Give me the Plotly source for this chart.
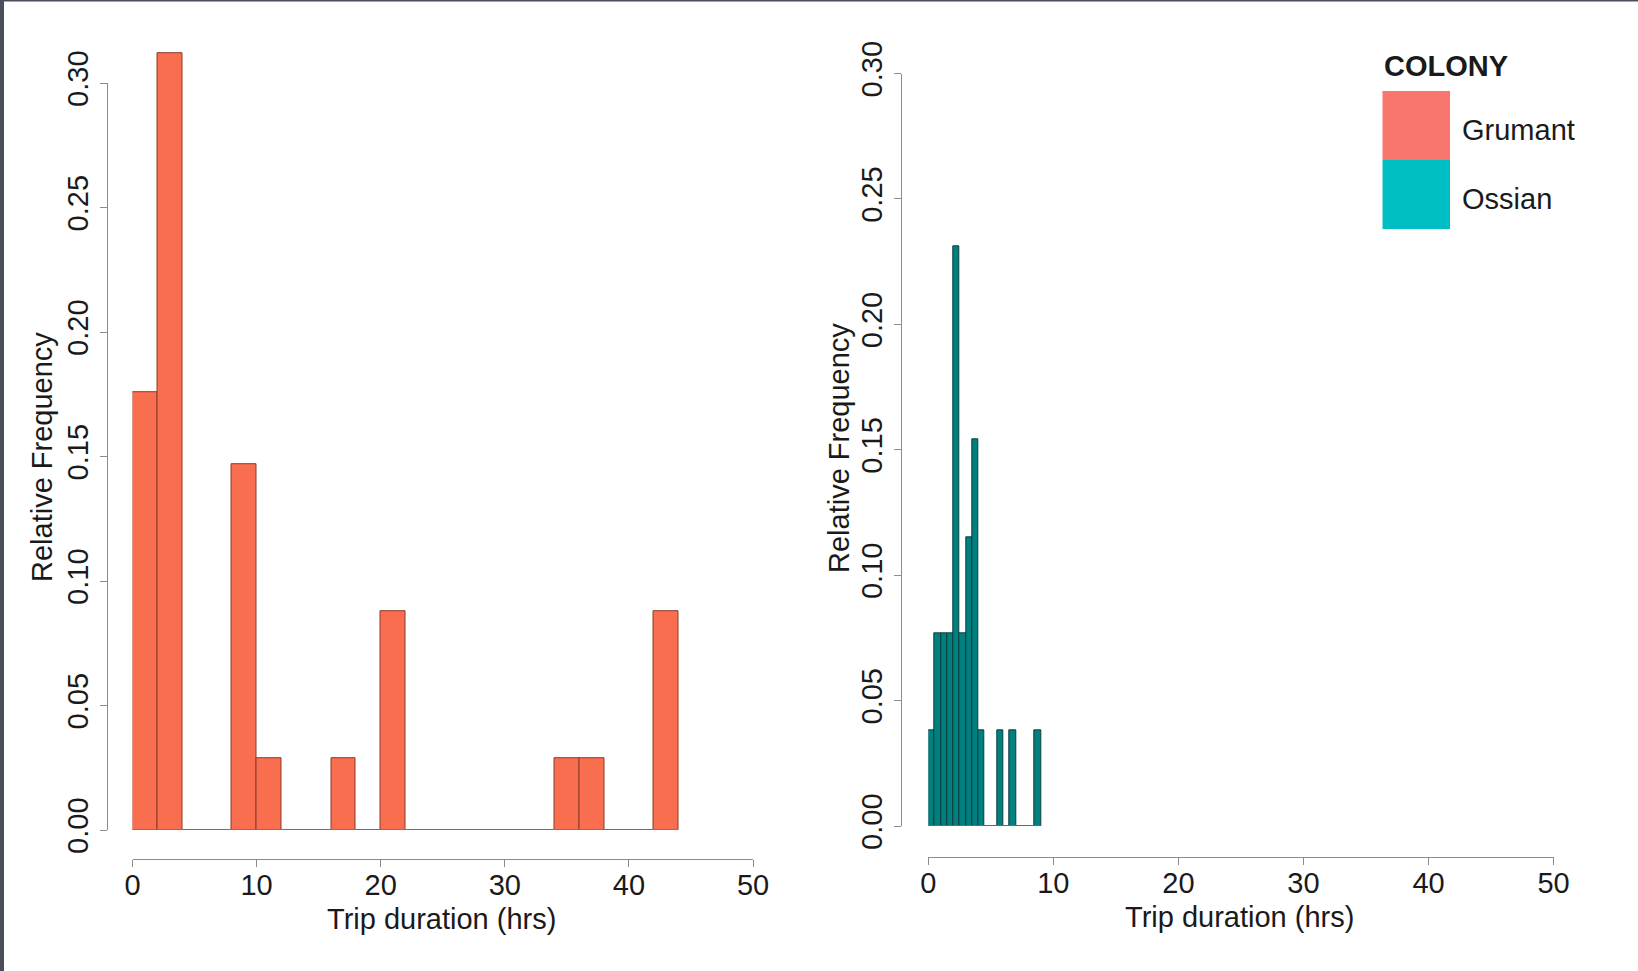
import plotly.graph_objects as go

# ---------------- data ----------------
colonies = ["Grumant", "Ossian"]
legend_colors = ["#F8766D", "#00BFC4"]

# Grumant: bin edges 0..44 (width 2 h), relative frequency per bin
grumant_edges = [0, 2, 4, 6, 8, 10, 12, 14, 16, 18, 20, 22, 24, 26, 28, 30, 32, 34, 36, 38, 40, 42, 44]
grumant_freq = [0.176, 0.312, 0, 0, 0.147, 0.029, 0, 0, 0.029, 0, 0.088,
                0, 0, 0, 0, 0, 0, 0.029, 0.029, 0, 0, 0.088]

# Ossian: bin edges 0..9 (width 0.5 h)
ossian_edges = [0, 0.5, 1, 1.5, 2, 2.5, 3, 3.5, 4, 4.5, 5, 5.5, 6, 6.5, 7, 7.5, 8, 8.5, 9]
ossian_freq = [0.038, 0.077, 0.077, 0.077, 0.231, 0.077, 0.115, 0.154, 0.038,
               0, 0, 0.038, 0, 0.038, 0, 0, 0, 0.038]

x_ticks = [0, 10, 20, 30, 40, 50]
y_ticks = [0.00, 0.05, 0.10, 0.15, 0.20, 0.25, 0.30]
x_title = "Trip duration (hrs)"
y_title = "Relative Frequency"
legend_title = "COLONY"

# ---------------- layout helpers ----------------
W, H = 1638, 971
FONT = "Liberation Sans, Arial, Helvetica, sans-serif"
AXCOL = "#8c8c8c"
TXT = "#1a1a1a"
FS = 29
CLEAR = "rgba(0,0,0,0)"


def fx(px):
    return px / W


def fy(py):
    return 1 - py / H


YMAX = 0.32
panels = [
    # x0px, x50px, y0px, y30px, yaxis line x, xaxis line y
    dict(x0=132.5, x50=753.0, y0=830.0, y30=83.0, yline=107.0, xline=859.0),
    dict(x0=928.3, x50=1553.6, y0=826.0, y30=73.5, yline=901.0, xline=857.0),
]

fig = go.Figure()

series = [
    (grumant_edges, grumant_freq, "#FA6E50", "#8a3a2a"),
    (ossian_edges, ossian_freq, "#00807E", "#0b3d3c"),
]

layout_axes = {}
for i, (p, (edges, freq, fill, edge)) in enumerate(zip(panels, series)):
    bx = "x" if i == 0 else f"x{i + 1}"
    by = "y" if i == 0 else f"y{i + 1}"
    dx = f"x{i + 3}"
    dy = f"y{i + 3}"
    widths = [b - a for a, b in zip(edges[:-1], edges[1:])]
    # baseline for the (empty) bins
    fig.add_trace(go.Scatter(x=[edges[0], edges[-1]], y=[0, 0], mode="lines",
                             line=dict(color=AXCOL, width=1), xaxis=bx, yaxis=by,
                             showlegend=False, hoverinfo="skip"))
    fig.add_trace(go.Bar(x=edges[:-1], y=freq, width=widths, offset=0,
                         marker=dict(color=fill, line=dict(color=edge, width=1)),
                         xaxis=bx, yaxis=by, showlegend=False, name=colonies[i]))
    fig.add_trace(go.Scatter(x=[None], y=[None], xaxis=dx, yaxis=dy,
                             showlegend=False, hoverinfo="skip"))

    ppu = (p["y0"] - p["y30"]) / 0.30
    top_px = p["y0"] - YMAX * ppu
    xdom = [fx(p["x0"]), fx(p["x50"])]
    kb = "xaxis" if i == 0 else f"xaxis{i + 1}"
    kby = "yaxis" if i == 0 else f"yaxis{i + 1}"
    layout_axes[kb] = dict(domain=xdom, range=[0, 50], visible=False, anchor=by)
    layout_axes[kby] = dict(domain=[fy(p["y0"]), fy(top_px)], range=[0, YMAX],
                            visible=False, anchor=bx)
    # decorative R-style axes
    layout_axes[f"xaxis{i + 3}"] = dict(
        domain=xdom, range=[0, 50], anchor="free", position=fy(p["xline"]),
        showline=True, linecolor=AXCOL, linewidth=1, ticks="outside", ticklen=7,
        tickcolor=AXCOL, tickvals=x_ticks, ticktext=[str(v) for v in x_ticks],
        ticklabelstandoff=-7,
        showgrid=False, zeroline=False, tickfont=dict(size=FS, color=TXT, family=FONT))
    layout_axes[f"yaxis{i + 3}"] = dict(
        domain=[fy(p["y0"]), fy(p["y30"])], range=[0, 0.30], anchor="free",
        position=fx(p["yline"]), showline=True, linecolor=AXCOL, linewidth=1,
        ticks="outside", ticklen=7, tickcolor=AXCOL, tickvals=y_ticks,
        ticktext=[f"{v:.2f}" for v in y_ticks], tickangle=-90, showgrid=False,
        zeroline=False, tickfont=dict(size=FS, color=TXT, family=FONT))


def ann(text, px, py, angle=0, xanchor="center"):
    return dict(text=text, x=fx(px), y=fy(py), xref="paper", yref="paper",
                xanchor=xanchor, yanchor="middle", textangle=angle, showarrow=False,
                font=dict(size=FS, color=TXT, family=FONT))


annotations = [
    ann(x_title, 441, 919),
    ann(x_title, 1239, 917),
    ann(y_title, 42, 457, angle=-90),
    ann(y_title, 839, 448, angle=-90),
    ann(f"<b>{legend_title}</b>", 1382, 66, xanchor="left"),
]

shapes = [
    # page frame (dark strip left and top)
    dict(type="rect", xref="paper", yref="paper", x0=0, x1=fx(4), y0=0, y1=1,
         fillcolor="#4a4e58", line=dict(width=0), layer="above"),
    dict(type="rect", xref="paper", yref="paper", x0=0, x1=1, y0=fy(1.5), y1=1,
         fillcolor="#4a4e58", line=dict(width=0), layer="above"),
]

# legend swatches
sw_top = 91.0
sw_h = 69.0
for j, (name, col) in enumerate(zip(colonies, legend_colors)):
    t = sw_top + j * sw_h
    shapes.append(dict(type="rect", xref="paper", yref="paper", x0=fx(1382.5), x1=fx(1450),
                       y0=fy(t + sw_h), y1=fy(t), fillcolor=col, line=dict(width=0)))
    annotations.append(ann(name, 1460, t + sw_h / 2 + 4, xanchor="left"))

fig.update_layout(
    width=W, height=H, margin=dict(l=0, r=0, t=0, b=0, autoexpand=False),
    paper_bgcolor="white", plot_bgcolor=CLEAR, bargap=0,
    font=dict(family=FONT, size=FS, color=TXT),
    annotations=annotations, shapes=shapes, showlegend=False,
    **layout_axes,
)

fig.write_html("out.html", config={"displayModeBar": False},
               post_script="document.body.style.margin='0';document.body.style.overflow='hidden';")
